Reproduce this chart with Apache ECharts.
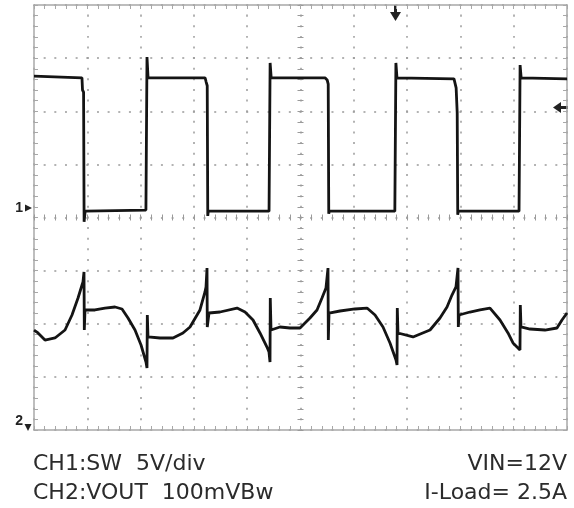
<!DOCTYPE html>
<html>
<head>
<meta charset="utf-8">
<script src="https://cdn.jsdelivr.net/npm/echarts@6/dist/echarts.min.js"></script>
<style>
  html, body { margin: 0; padding: 0; background: #fff; }
  #scope { width: 574px; height: 508px; }
</style>
</head>
<body>
<div id="scope"></div>
<script>
// Screen units: time in divisions (0..10), amplitude in divisions (-4..4 from centre)
const ch1Time = [0, 0.90, 0.91, 0.93, 0.94, 0.96, 2.10, 2.12, 2.14,
    3.21, 3.23, 3.25, 3.26, 3.27, 4.41, 4.43, 4.45,
    5.46, 5.50, 5.52, 5.53, 5.54, 6.77, 6.79, 6.81,
    7.88, 7.92, 7.94, 7.95, 7.96, 9.10, 9.12, 9.14, 10];
const ch1Level = [2.66, 2.63, 2.40, 2.36, -0.08, 0.12, 0.14, 3.02, 2.63,
    2.63, 2.55, 2.48, 0.03, 0.12, 0.12, 2.91, 2.63,
    2.63, 2.59, 2.51, 0.07, 0.12, 0.12, 2.91, 2.63,
    2.61, 2.44, 1.97, 0.05, 0.12, 0.12, 2.87, 2.63, 2.61];

const ch2Time = [0, 0.075, 0.206, 0.394, 0.582, 0.713, 0.826, 0.901, 0.919, 0.938, 0.944, 0.957,
    1.144, 1.332, 1.520, 1.651, 1.764, 1.895, 2.008, 2.101, 2.120, 2.126, 2.139,
    2.364, 2.608, 2.795, 2.927, 3.114, 3.208, 3.227, 3.246, 3.251, 3.283,
    3.490, 3.809, 3.959, 4.109, 4.240, 4.371, 4.409, 4.428, 4.433, 4.447,
    4.615, 4.803, 4.991, 5.178, 5.310, 5.403, 5.478, 5.516, 5.522, 5.535,
    5.741, 6.023, 6.248, 6.398, 6.548, 6.679, 6.792, 6.811, 6.816, 6.829,
    7.111, 7.430, 7.617, 7.749, 7.842, 7.917, 7.955, 7.961, 7.974,
    8.180, 8.368, 8.555, 8.743, 8.893, 8.987, 9.081, 9.118, 9.124, 9.137,
    9.306, 9.587, 9.812, 9.906, 10];
const ch2Level = [-2.118, -2.174, -2.306, -2.268, -2.118, -1.835, -1.515, -1.271, -1.214, -1.025, -2.118, -1.741,
    -1.741, -1.704, -1.685, -1.722, -1.892, -2.118, -2.400, -2.720, -2.833, -1.835, -2.249,
    -2.268, -2.268, -2.174, -2.061, -1.741, -1.402, -1.308, -0.951, -2.061, -1.798,
    -1.779, -1.704, -1.779, -1.929, -2.174, -2.438, -2.532, -2.720, -1.515, -2.118,
    -2.061, -2.080, -2.080, -1.892, -1.741, -1.515, -1.327, -0.951, -2.306, -1.798,
    -1.760, -1.722, -1.704, -1.835, -2.061, -2.362, -2.682, -2.776, -1.704, -2.174,
    -2.249, -2.118, -1.892, -1.685, -1.459, -1.308, -0.951, -2.061, -1.835,
    -1.779, -1.741, -1.704, -1.929, -2.174, -2.362, -2.456, -2.494, -1.647, -2.061,
    -2.099, -2.118, -2.080, -1.929, -1.798];

const captionLeft = ['CH1:SW  5V/div', 'CH2:VOUT  100mVBw'];
const captionRight = ['VIN=12V', 'I-Load= 2.5A'];

const zip = (xs, ys) => xs.map((x, i) => [x, ys[i]]);

const chart = echarts.init(document.getElementById('scope'));

const gridColor = '#a8a8a8';
const dotColor = '#9a9a9a';
const traceColor = '#141414';
const textColor = '#2b2b2b';
const captionFont = '22px "DejaVu Sans"';

function edgeAxis(kind, position, split) {
    return {
        type: 'value', position: position, min: kind === 'x' ? 0 : -4, max: kind === 'x' ? 10 : 4, interval: 1,
        axisLine: { show: true, onZero: false, lineStyle: { color: gridColor, width: 1.5 } },
        axisTick: { show: true, inside: true, length: 4, lineStyle: { color: gridColor } },
        minorTick: { show: true, splitNumber: 5, length: 4, lineStyle: { color: gridColor } },
        axisLabel: { show: false },
        splitLine: split ? {
            show: true,
            lineStyle: { color: dotColor, width: 1.5, type: kind === 'x' ? [2, 8.625] : [2, 8.66], dashOffset: 1 }
        } : { show: false }
    };
}

function centreAxis(kind, position, offset) {
    return {
        type: 'value', position: position, offset: offset,
        min: kind === 'x' ? 0 : -4, max: kind === 'x' ? 10 : 4, interval: 1,
        axisLine: { show: false, onZero: false },
        axisTick: { show: true, inside: true, length: 6, lineStyle: { color: dotColor } },
        minorTick: { show: true, splitNumber: 5, length: 6, lineStyle: { color: dotColor } },
        axisLabel: { show: false },
        splitLine: { show: false }
    };
}

const option = {
    animation: false,
    backgroundColor: '#fff',
    grid: { left: 34, top: 5, width: 533, height: 425 },
    xAxis: [
        edgeAxis('x', 'bottom', true),
        edgeAxis('x', 'top', false),
        centreAxis('x', 'bottom', -209.5)
    ],
    yAxis: [
        edgeAxis('y', 'left', true),
        edgeAxis('y', 'right', false),
        centreAxis('y', 'left', -263.5)
    ],
    series: [
        {
            name: 'CH1', type: 'line', xAxisIndex: 0, yAxisIndex: 0,
            data: zip(ch1Time, ch1Level), showSymbol: false,
            lineStyle: { color: traceColor, width: 2.8 }
        },
        {
            name: 'CH2', type: 'line', xAxisIndex: 0, yAxisIndex: 0,
            data: zip(ch2Time, ch2Level), showSymbol: false,
            lineStyle: { color: traceColor, width: 2.8 }
        }
    ],
    graphic: [
        // trigger position marker
        { type: 'rect', shape: { x: 394, y: 5, width: 3, height: 8 }, style: { fill: '#222' } },
        { type: 'polygon', shape: { points: [[390, 12], [401, 12], [395.5, 21]] }, style: { fill: '#222' } },
        // trigger level marker
        { type: 'rect', shape: { x: 560, y: 106, width: 8, height: 3 }, style: { fill: '#222' } },
        { type: 'polygon', shape: { points: [[561, 102], [561, 113], [553, 107.5]] }, style: { fill: '#222' } },
        // channel ground markers
        { type: 'text', style: { text: '1', x: 23, y: 208, font: 'bold 14px "Liberation Sans"', fill: '#222', align: 'right', verticalAlign: 'middle' } },
        { type: 'polygon', shape: { points: [[25, 204.5], [25, 211.5], [32, 208]] }, style: { fill: '#222' } },
        { type: 'text', style: { text: '2', x: 23, y: 421, font: 'bold 14px "Liberation Sans"', fill: '#222', align: 'right', verticalAlign: 'middle' } },
        { type: 'polygon', shape: { points: [[24.5, 424], [31.5, 424], [28, 431]] }, style: { fill: '#222' } },
        // captions
        { type: 'text', style: { text: captionLeft[0], x: 33, y: 464, font: captionFont, fill: textColor, align: 'left', verticalAlign: 'middle' } },
        { type: 'text', style: { text: captionLeft[1], x: 33, y: 493, font: captionFont, fill: textColor, align: 'left', verticalAlign: 'middle' } },
        { type: 'text', style: { text: captionRight[0], x: 567, y: 464, font: captionFont, fill: textColor, align: 'right', verticalAlign: 'middle' } },
        { type: 'text', style: { text: captionRight[1], x: 567, y: 493, font: captionFont, fill: textColor, align: 'right', verticalAlign: 'middle' } }
    ]
};

chart.setOption(option);
</script>
</body>
</html>
